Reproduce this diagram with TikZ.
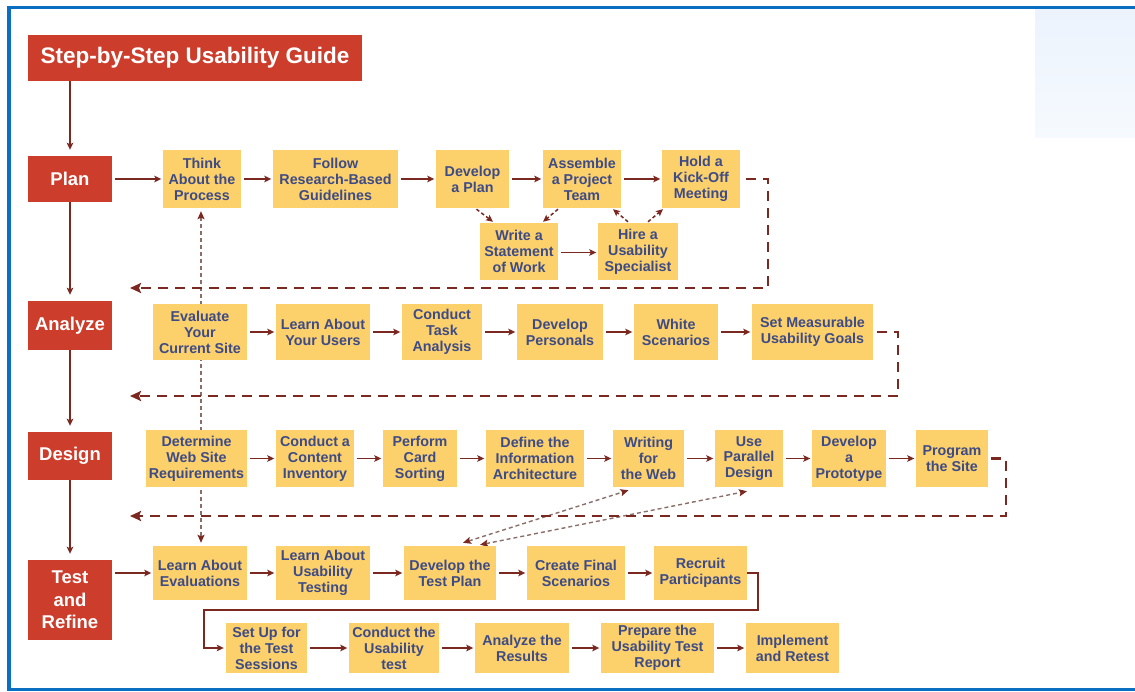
\documentclass[tikz,border=0pt]{standalone}
\usepackage{fontspec}
\setmainfont{Liberation Sans}
\usetikzlibrary{arrows.meta,calc}
\pgfdeclarelayer{bg}
\pgfsetlayers{bg,main}
\definecolor{redc}{RGB}{204,61,44}
\definecolor{yelc}{RGB}{252,208,107}
\definecolor{textc}{RGB}{61,75,134}
\definecolor{arrowc}{RGB}{122,40,32}
\definecolor{dotc}{RGB}{138,111,105}
\definecolor{bluec}{RGB}{11,111,193}
\definecolor{paneltop}{RGB}{236,243,253}
\definecolor{panelbot}{RGB}{246,250,254}
\newcommand\ybx[6]{\node[ybox, minimum width={(#4-#2)*1pt}, minimum height={(#5-#3)*1pt}] (#1) at ({(#2+#4)/2},{(#3+#5)/2}) {#6};}
\newcommand\rbx[6]{\node[rbox, minimum width={(#4-#2)*1pt}, minimum height={(#5-#3)*1pt}] (#1) at ({(#2+#4)/2},{(#3+#5)/2}) {#6};}
\tikzset{
  ybox/.style={fill=yelc, text=textc, inner sep=0pt, align=center,
    font=\fontsize{14.3}{15.9}\selectfont\bfseries},
  rbox/.style={fill=redc, text=white, inner sep=0pt, align=center,
    font=\fontsize{18.5}{22.5}\selectfont\bfseries},
  arr/.style={draw=arrowc, line width=1.4pt, -{Stealth[length=7pt,width=6.5pt,inset=1.5pt]},
    shorten <=3pt, shorten >=1.5pt},
  varr/.style={draw=arrowc, line width=1.4pt, -{Stealth[length=7pt,width=6.5pt,inset=1.5pt]},
    shorten >=6pt},
  darr/.style={draw=arrowc, line width=1.5pt, dash pattern=on 3.5pt off 2.5pt,
    -{Stealth[length=7pt,width=6.5pt,inset=1.5pt]}},
  ret/.style={draw=arrowc, line width=2.5pt, dash pattern=on 10pt off 7pt,
    -{Stealth[length=11pt,width=10pt,inset=2pt]}},
  dotarr/.style={draw=dotc, line width=1.4pt, dash pattern=on 4pt off 3pt,
    {Stealth[length=8pt,width=7pt,inset=1.5pt,color=arrowc]}-{Stealth[length=8pt,width=7pt,inset=1.5pt,color=arrowc]}},
}
\begin{document}
\begin{tikzpicture}[x=1pt,y=-1pt]
\useasboundingbox (0,0) rectangle (1135,692);
% light panel
\shade[top color=paneltop, bottom color=panelbot, draw=none] (1035,10) rectangle (1135,138);
% frame
\draw[bluec, line width=3.5pt] (1140,7.5) -- (9,7.5) -- (9,689.5) -- (1140,689.5);

% red boxes
\node[rbox, minimum width=334pt, minimum height=46pt, font=\fontsize{22.5}{26}\selectfont\bfseries] (title) at (195,58) {Step-by-Step Usability Guide};
\rbx{plan}{28}{156}{112}{202}{Plan}
\rbx{analyze}{28}{301}{112}{350}{Analyze}
\rbx{design}{28}{432}{112}{480}{Design}
\rbx{test}{28}{560}{112}{640}{Test\\and\\Refine}

% plan row
\ybx{think}{163}{150}{241}{208}{Think\\About the\\Process}
\ybx{follow}{273}{150}{398}{208}{Follow\\Research-Based\\Guidelines}
\ybx{dplan}{436}{150}{509}{208}{Develop\\a Plan}
\ybx{assemble}{543}{150}{621}{208}{Assemble\\a Project\\Team}
\ybx{hold}{662}{150}{740}{208}{Hold a\\Kick-Off\\Meeting}
\ybx{write}{480}{223}{558}{280}{Write a\\Statement\\of Work}
\ybx{hire}{598}{223}{678}{280}{Hire a\\Usability\\Specialist}

% analyze row
\ybx{evaluate}{153}{304}{247}{360}{Evaluate\\Your\\Current Site}
\ybx{lusers}{276}{304}{370}{360}{Learn About\\Your Users}
\ybx{task}{402}{304}{482}{360}{Conduct\\Task\\Analysis}
\ybx{personals}{517}{304}{603}{360}{Develop\\Personals}
\ybx{scen}{634}{304}{718}{360}{White\\Scenarios}
\ybx{goals}{752}{304}{873}{360}{Set Measurable\\Usability Goals}

% design row
\ybx{determine}{146}{430}{247}{487}{Determine\\Web Site\\Requirements}
\ybx{content}{276}{430}{354}{487}{Conduct a\\Content\\Inventory}
\ybx{card}{383}{430}{457}{487}{Perform\\Card\\Sorting}
\ybx{define}{486}{430}{584}{487}{Define the\\Information\\Architecture}
\ybx{writing}{613}{430}{684}{487}{Writing\\for\\the Web}
\ybx{parallel}{715}{430}{783}{487}{Use\\Parallel\\Design}
\ybx{proto}{812}{430}{886}{487}{Develop\\a\\Prototype}
\ybx{program}{916}{430}{988}{487}{Program\\the Site}

% test row 1
\ybx{leval}{153}{546}{247}{600}{Learn About\\Evaluations}
\ybx{lusab}{276}{546}{370}{600}{Learn About\\Usability\\Testing}
\ybx{dtp}{404}{546}{496}{600}{Develop the\\Test Plan}
\ybx{final}{527}{546}{625}{600}{Create Final\\Scenarios}
\ybx{recruit}{654}{546}{747}{600}{Recruit\\Participants}

% test row 2
\ybx{setup}{226}{623}{307}{673}{Set Up for\\the Test\\Sessions}
\ybx{conduct}{349}{623}{439}{673}{Conduct the\\Usability\\test}
\ybx{results}{475}{623}{569}{673}{Analyze the\\Results}
\ybx{report}{601}{623}{714}{673}{Prepare the\\Usability Test\\Report}
\ybx{retest}{746}{623}{839}{673}{Implement\\and Retest}

% vertical arrows between red boxes
\draw[varr] ([xshift=-125pt]title.south) -- (plan.north);
\draw[varr] (plan.south) -- (analyze.north);
\draw[varr] (analyze.south) -- (design.north);
\draw[varr] (design.south) -- (test.north);

% plan row arrows
\draw[arr] (plan.east) -- (think.west);
\draw[arr] (think.east) -- (follow.west);
\draw[arr] (follow.east) -- (dplan.west);
\draw[arr] (dplan.east) -- (assemble.west);
\draw[arr] (assemble.east) -- (hold.west);
\draw[arr] ([yshift=-1pt]write.east) -- ([yshift=-1pt]hire.west);
\draw[darr] ([xshift=4pt,yshift=-1pt]dplan.south) -- ([xshift=-26pt,yshift=1pt]write.north);
\draw[darr] ([xshift=-24pt,yshift=-1pt]assemble.south) -- ([xshift=24pt,yshift=1pt]write.north);
\draw[darr] ([xshift=-10pt,yshift=1pt]hire.north) -- ([xshift=31pt,yshift=-1pt]assemble.south);
\draw[darr] ([xshift=10pt,yshift=1pt]hire.north) -- ([xshift=-38pt,yshift=-1pt]hold.south);

% analyze row arrows
\draw[arr] (evaluate.east) -- (lusers.west);
\draw[arr] (lusers.east) -- (task.west);
\draw[arr] (task.east) -- (personals.west);
\draw[arr] (personals.east) -- (scen.west);
\draw[arr] (scen.east) -- (goals.west);

% design row arrows
\draw[arr] (determine.east) -- (content.west);
\draw[arr] (content.east) -- (card.west);
\draw[arr] (card.east) -- (define.west);
\draw[arr] (define.east) -- (writing.west);
\draw[arr] (writing.east) -- (parallel.west);
\draw[arr] (parallel.east) -- (proto.west);
\draw[arr] (proto.east) -- (program.west);

% test rows arrows
\draw[arr] (test.east |- leval.west) -- (leval.west);
\draw[arr] (leval.east) -- (lusab.west);
\draw[arr] (lusab.east) -- (dtp.west);
\draw[arr] (dtp.east) -- (final.west);
\draw[arr] (final.east) -- (recruit.west);
\draw[arr] (setup.east) -- (conduct.west);
\draw[arr] (conduct.east) -- (results.west);
\draw[arr] (results.east) -- (report.west);
\draw[arr] (report.east) -- (retest.west);
\coordinate (c1) at (758,610);
\coordinate (c2) at (204,610);
\draw[draw=arrowc, line width=1.4pt, -{Stealth[length=7pt,width=6.5pt,inset=1.5pt]}, shorten >=2pt]
  (recruit.east) -| (c1) -- (c2) |- (setup.west);

% dashed returns
\coordinate (r1c) at (768,288);
\coordinate (r1e) at (130,288);
\draw[ret] ([xshift=6pt]hold.east) -| (r1c) -- (r1e);
\coordinate (r2c) at (898,396);
\coordinate (r2e) at (130,396);
\draw[ret] ([xshift=4pt]goals.east) -| (r2c) -- (r2e);
\coordinate (r3c) at (1006,516);
\coordinate (r3e) at (130,516);
\draw[ret] ([xshift=3pt]program.east) -| (r3c) -- (r3e);

% dotted double arrows (behind the boxes)
\begin{pgfonlayer}{bg}
\draw[dotarr] ([xshift=-1pt,yshift=-3pt]think.south) -- ([xshift=1pt,yshift=3pt]leval.north);
\draw[dotarr] ([xshift=13pt,yshift=3pt]dtp.north) -- ([xshift=-20pt,yshift=-3pt]writing.south);
\draw[dotarr] ([xshift=30pt,yshift=1pt]dtp.north) -- ([xshift=-2pt,yshift=-4pt]parallel.south);
\end{pgfonlayer}
\end{tikzpicture}
\end{document}
